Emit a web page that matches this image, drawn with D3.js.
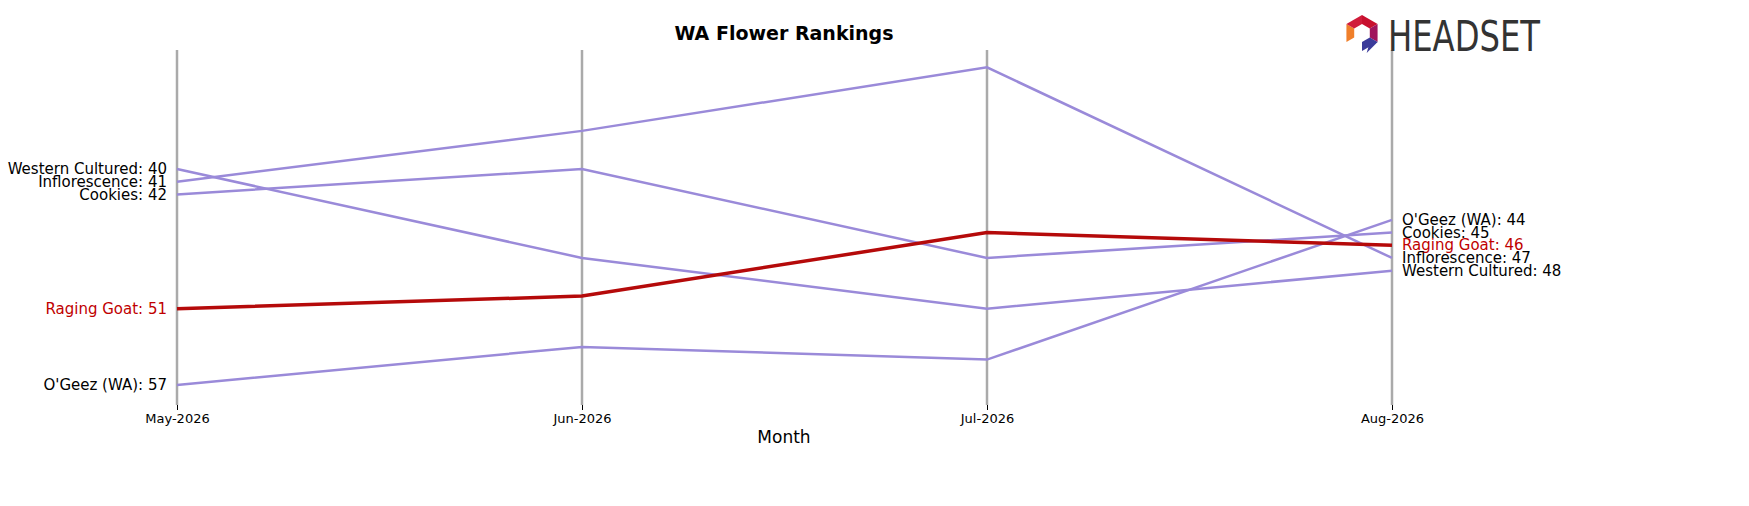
<!DOCTYPE html>
<html><head><meta charset="utf-8">
<script src="https://cdn.jsdelivr.net/npm/d3@7"></script>
<style>body{margin:0;background:#fff;font-family:"DejaVu Sans",sans-serif}</style>
</head><body><div id="chart"></div>
<script>
const months = ['May-2026', 'Jun-2026', 'Jul-2026', 'Aug-2026']
const brands = ['Western Cultured', 'Inflorescence', 'Cookies', 'Raging Goat', "O'Geez (WA)"]
const ranks = [
  [40, 47, 51, 48],
  [41, 37, 32, 47],
  [42, 40, 47, 45],
  [51, 50, 45, 46],
  [57, 54, 55, 44],
]
const highlight = 'Raging Goat'

const width = 1749, height = 506
const svg = d3.select('#chart').append('svg').attr('width', width).attr('height', height)

const x = d3.scalePoint().domain(months).range([177, 1392])
const y = d3.scaleLinear().domain([40, 57]).range([169, 385])

// vertical guides
svg.append('g').selectAll('line').data(months).join('line')
  .attr('x1', d => x(d)).attr('x2', d => x(d))
  .attr('y1', 50).attr('y2', 405)
  .attr('stroke', '#aaa').attr('stroke-width', 2.5)

// x axis
const xAxis = svg.append('g').attr('transform', 'translate(0,405)')
  .call(d3.axisBottom(x).tickSize(5).tickPadding(4))
xAxis.select('.domain').remove()
xAxis.selectAll('text').attr('font-size', 13).attr('font-family', 'DejaVu Sans').attr('fill', '#000')

svg.append('text').attr('x', 784).attr('y', 443).attr('text-anchor', 'middle')
  .attr('font-size', 17).text('Month')
svg.append('text').attr('x', 784).attr('y', 40).attr('text-anchor', 'middle')
  .attr('font-size', 19).attr('font-weight', 'bold').text('WA Flower Rankings')

const line = d3.line().x((d, i) => x(months[i])).y(d => y(d))
const order = brands.map((b, i) => i).sort((a, b) => (brands[a] === highlight) - (brands[b] === highlight))
svg.append('g').selectAll('path').data(order).join('path')
  .attr('d', i => line(ranks[i]))
  .attr('fill', 'none')
  .attr('stroke', i => brands[i] === highlight ? '#b50a0a' : '#9a8ad9')
  .attr('stroke-width', i => brands[i] === highlight ? 3.5 : 2.5)

const col = b => b === highlight ? '#c00000' : '#000'
svg.append('g').selectAll('text').data(brands).join('text')
  .attr('x', x(months[0]) - 10).attr('y', (b, i) => y(ranks[i][0])).attr('dy', '0.35em')
  .attr('text-anchor', 'end').attr('font-size', 15).attr('fill', col)
  .text((b, i) => `${b}: ${ranks[i][0]}`)
svg.append('g').selectAll('text').data(brands).join('text')
  .attr('x', x(months[3]) + 10).attr('y', (b, i) => y(ranks[i][3])).attr('dy', '0.35em')
  .attr('font-size', 15).attr('fill', col)
  .text((b, i) => `${b}: ${ranks[i][3]}`)

// logo
const logo = svg.append('g').attr('transform', 'translate(1362,33)')
const hex = d3.range(6).map(k => [18 * Math.cos(Math.PI / 3 * k - Math.PI / 2), 18 * Math.sin(Math.PI / 3 * k - Math.PI / 2)])
const cols = ['#c8102e', '#a0155d', '#3b3b9a', '#2a2a7a', '#f07f2a', '#d01c3a']
hex.forEach((p, k) => {
  const q = hex[(k + 1) % 6]
  if (k === 2 || k === 3) {
    logo.append('path').attr('d', `M${p[0] * 0.5},${p[1]}L${p[0]},${p[1]}L${q[0] * 0.4 + p[0] * 0.3},${q[1] + 2}Z`).attr('fill', cols[k])
  }
  logo.append('path')
    .attr('d', `M${p}L${q}L${q[0] * 0.5},${q[1] * 0.5}L${p[0] * 0.5},${p[1] * 0.5}Z`)
    .attr('fill', k === 3 ? '#fff' : cols[k])
})
logo.append('text').attr('x', 26).attr('y', 18).attr('font-size', 42)
  .attr('font-family', 'Liberation Sans Narrow, DejaVu Sans Condensed, sans-serif')
  .attr('fill', '#333').attr('textLength', 152).attr('lengthAdjust', 'spacingAndGlyphs').text('HEADSET')
</script></body></html>
